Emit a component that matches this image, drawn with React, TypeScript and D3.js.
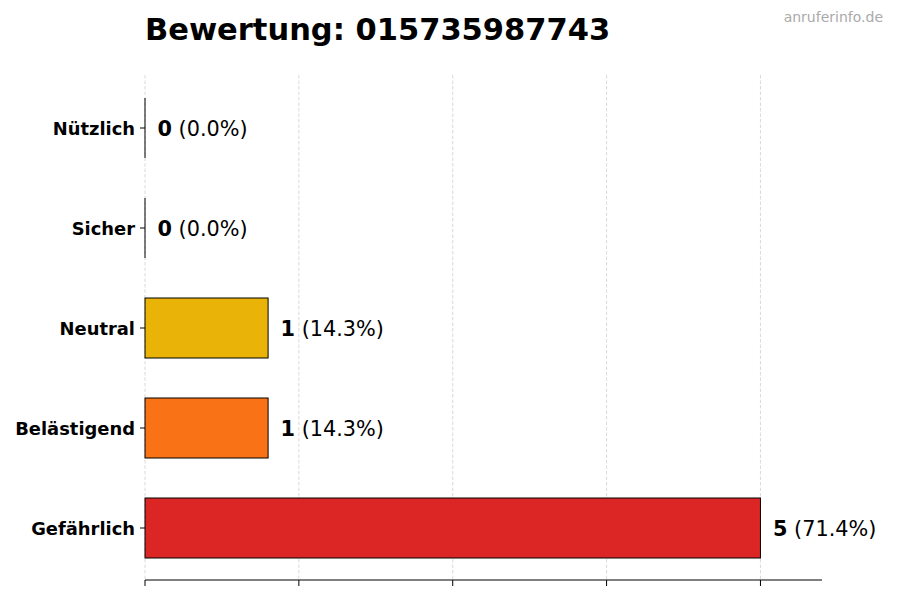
import React from "react";
import * as d3 from "d3";

const categories = ["Nützlich", "Sicher", "Neutral", "Belästigend", "Gefährlich"];
const counts = [0, 0, 1, 1, 5];
const percents = ["0.0%", "0.0%", "14.3%", "14.3%", "71.4%"];
const colors = ["#22c55e", "#3b82f6", "#eab308", "#f97316", "#dc2626"];
const xTicks = [0, 1.25, 2.5, 3.75, 5];
const title = "Bewertung: 015735987743";
const watermark = "anruferinfo.de";

const W = 900;
const H = 600;
const left = 145;
const right = 822;
const top = 78;
const bottom = 578;
const axisY = 580;

export default function App() {
  const x = d3.scaleLinear().domain([0, 5.5]).range([left, right]);
  const y = d3
    .scaleBand<string>()
    .domain(categories)
    .range([top, bottom])
    .paddingInner(0.4)
    .paddingOuter(0.2);
  const font = "'DejaVu Sans', sans-serif";

  return (
    <svg
      width={W}
      height={H}
      style={{ position: "absolute", left: 0, top: 0, background: "#fff" }}
      fontFamily={font}
    >
      {xTicks.map((t) => (
        <line
          key={"g" + t}
          x1={x(t)}
          x2={x(t)}
          y1={75}
          y2={axisY}
          stroke="#d0d0d0"
          strokeWidth={0.8}
          strokeDasharray="3.5,2"
        />
      ))}
      {categories.map((c, i) => {
        const yy = y(c)!;
        const bw = y.bandwidth();
        const x1 = x(counts[i]);
        return (
          <g key={c}>
            <rect
              x={x(0)}
              y={yy}
              width={x1 - x(0)}
              height={bw}
              fill={colors[i]}
              stroke="#000"
              strokeWidth={1}
            />
            {counts[i] === 0 && (
              <line x1={x(0)} x2={x(0)} y1={yy} y2={yy + bw} stroke="#000" strokeWidth={1} />
            )}
            <line x1={left - 5} x2={left} y1={yy + bw / 2} y2={yy + bw / 2} stroke="#000" strokeWidth={1} />
            <text
              x={left - 10}
              y={yy + bw / 2}
              dy="0.38em"
              textAnchor="end"
              fontWeight="bold"
              fontSize={17.9}
              fill="#000"
            >
              {c}
            </text>
            <text x={x1 + 12.5} y={yy + bw / 2} dy="0.38em" fontSize={20.8} fill="#000">
              <tspan fontWeight="bold">{counts[i]}</tspan>
              <tspan>{" (" + percents[i] + ")"}</tspan>
            </text>
          </g>
        );
      })}
      <line x1={left} x2={right} y1={axisY} y2={axisY} stroke="#000" strokeWidth={1} />
      {xTicks.map((t) => (
        <line key={"t" + t} x1={x(t)} x2={x(t)} y1={axisY} y2={axisY + 6} stroke="#000" strokeWidth={1} />
      ))}
      <text x={left} y={40} fontSize={30.5} fontWeight="bold" fill="#000">
        {title}
      </text>
      <text x={883} y={22} fontSize={14} textAnchor="end" fill="#aaaaaa">
        {watermark}
      </text>
    </svg>
  );
}
